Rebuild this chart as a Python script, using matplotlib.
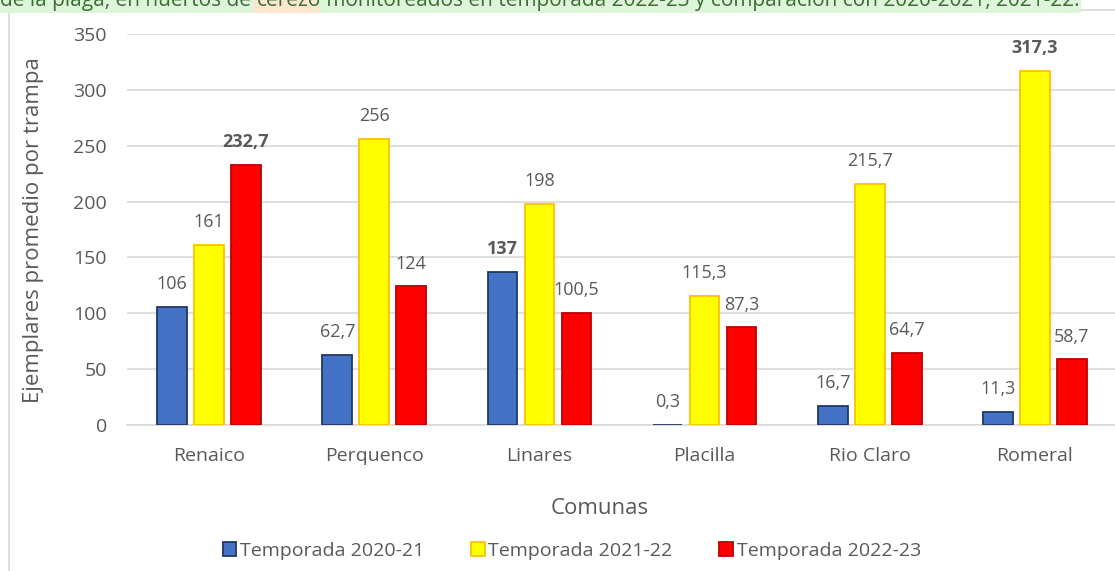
import matplotlib
matplotlib.use("Agg")
import matplotlib.pyplot as plt
from matplotlib.patches import Rectangle
import numpy as np

categories = ["Renaico", "Perquenco", "Linares", "Placilla", "Rio Claro", "Romeral"]
series_names = ["Temporada 2020-21", "Temporada 2021-22", "Temporada 2022-23"]
t2020 = [106, 62.7, 137, 0.3, 16.7, 11.3]
t2021 = [161, 256, 198, 115.3, 215.7, 317.3]
t2022 = [232.7, 124, 100.5, 87.3, 64.7, 58.7]
bold_labels = {(0, 2), (2, 0), (5, 1)}  # (category index, series index)
yticks = [0, 50, 100, 150, 200, 250, 300, 350]
x_title = "Comunas"
y_title = "Ejemplares promedio por trampa"
caption_parts = ["de la plaga, en huertos de ", "cerezo",
                 " monitoreados en temporada 2022-23 y comparación con 2020-2021, 2021-22."]
caption_bg = ["#DDF5D8", "#FDE6CF", "#DDF5D8"]

face_colors = ["#4472C4", "#FFFF00", "#FF0000"]
edge_colors = ["#203864", "#FFC000", "#C00000"]
txt = "#595959"

plt.rcParams['font.family'] = ['Open Sans', 'DejaVu Sans']

W, H = 1115, 571
fig = plt.figure(figsize=(W / 100, H / 100), dpi=100)

# chart frame
fig.patches.append(Rectangle((8.5 / W, -0.1), 1.2, (H - 9.5) / H + 0.1, transform=fig.transFigure,
                             facecolor="none", edgecolor="#D9D9D9", linewidth=1.2, zorder=0))

# caption (partially cut off at top)
renderer = fig.canvas.get_renderer()
xpos = 0.0
for part, bg in zip(caption_parts, caption_bg):
    t = fig.text(xpos / W, 1 - 6 / H, part, ha="left", va="baseline", fontsize=15, color="#3B6E33",
                 bbox=dict(boxstyle="square,pad=0.1", facecolor=bg, edgecolor="none"))
    ext = t.get_window_extent(renderer=renderer)
    xpos = ext.x1

ax = fig.add_axes([126.5 / W, (H - 425) / H, 991 / W, (425 - 34) / H])
x = np.arange(len(categories))
width = 0.18
step = 0.224
all_series = [t2020, t2021, t2022]
for s, vals in enumerate(all_series):
    bars = ax.bar(x + (s - 1) * step, vals, width, color=face_colors[s], edgecolor=edge_colors[s],
                  linewidth=1.3, label=series_names[s], zorder=3)
    for i, (b, v) in enumerate(zip(bars, vals)):
        lab = f"{v:g}".replace(".", ",")
        ax.annotate(lab, (b.get_x() + b.get_width() / 2, v), xytext=(0, 16.5),
                    textcoords="offset points", ha="center", va="center", fontsize=13, color=txt,
                    fontweight="bold" if (i, s) in bold_labels else "normal")

ax.set_xlim(-0.5, len(categories) - 0.5)
ax.set_ylim(0, 350)
ax.set_yticks(yticks)
ax.set_xticks(x)
ax.set_xticklabels(categories)
ax.tick_params(axis="both", length=0, labelsize=14, labelcolor=txt)
ax.tick_params(axis="y", pad=14)
ax.tick_params(axis="x", pad=16)
ax.grid(axis="y", color="#D9D9D9", linewidth=1.2, zorder=0)
for sp in ["top", "right", "left"]:
    ax.spines[sp].set_visible(False)
ax.spines["bottom"].set_color("#D9D9D9")
ax.spines["bottom"].set_linewidth(1.2)

fig.text(34 / W, 1 - 230 / H, y_title, rotation=90, ha="center", va="center", fontsize=16, color=txt)
fig.text(600 / W, 1 - 508 / H, x_title, ha="center", va="center", fontsize=16, color=txt)

handles, labels = ax.get_legend_handles_labels()
leg = fig.legend(handles, labels, loc="center left", bbox_to_anchor=(205 / W, 1 - 551 / H), ncol=3,
                 frameon=False, fontsize=14, handlelength=0.7, handleheight=0.7, handletextpad=0.2,
                 columnspacing=2.4, labelcolor=txt)

fig.savefig("out.png", dpi=100)
